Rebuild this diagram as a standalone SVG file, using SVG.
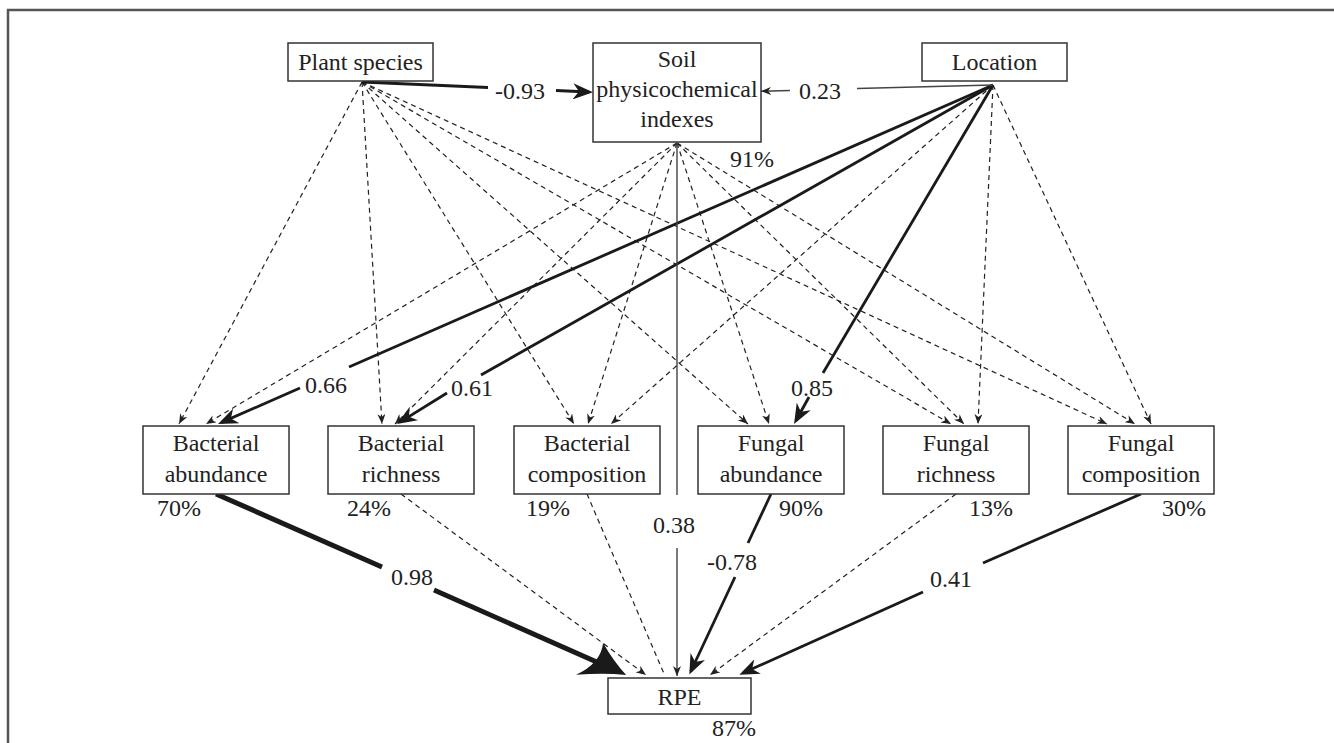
<svg xmlns="http://www.w3.org/2000/svg" width="1334" height="743" viewBox="0 0 1334 743">
<defs>
<style>
.box{fill:#fff;stroke:#333;stroke-width:1.5}
.t{font-family:"Liberation Serif","Times New Roman",serif;font-size:24px;fill:#222}
.c{text-anchor:middle}
.dash{fill:none;stroke:#222;stroke-width:1.2;stroke-dasharray:5 4}
.thick{fill:none;stroke:#1a1a1a;stroke-width:2.8}
.huge{fill:none;stroke:#1a1a1a;stroke-width:5}
.thin{fill:none;stroke:#444;stroke-width:1.4}
</style>
<marker id="sm" viewBox="0 0 10 8" refX="10" refY="4" markerWidth="10" markerHeight="8" orient="auto" markerUnits="userSpaceOnUse"><path d="M10,4 L0,0 L3,4 L0,8 Z" fill="#222"/></marker>
<marker id="md" viewBox="0 0 20 16" refX="16" refY="8" markerWidth="20" markerHeight="16" orient="auto" markerUnits="userSpaceOnUse"><path d="M20,8 L0,0 L6,8 L0,16 Z" fill="#1a1a1a"/></marker>
<marker id="lg" viewBox="0 0 46 40" refX="36" refY="20" markerWidth="46" markerHeight="40" orient="auto" markerUnits="userSpaceOnUse"><path d="M46,20 Q28,12 12,0 Q18,20 0,40 Q26,26 46,20 Z" fill="#1a1a1a"/></marker>
</defs>
<rect width="1334" height="743" fill="#fff"/>
<path d="M8,743 V10 H1334" fill="none" stroke="#555" stroke-width="2.5"/>

<g id="connectors">
<!-- Plant species dashed -->
<line class="dash" x1="362" y1="82" x2="179" y2="424" marker-end="url(#sm)"/>
<line class="dash" x1="362" y1="82" x2="382" y2="424" marker-end="url(#sm)"/>
<line class="dash" x1="362" y1="82" x2="574" y2="424" marker-end="url(#sm)"/>
<line class="dash" x1="362" y1="82" x2="748" y2="424" marker-end="url(#sm)"/>
<line class="dash" x1="362" y1="82" x2="951" y2="424" marker-end="url(#sm)"/>
<line class="dash" x1="362" y1="82" x2="1107" y2="424" marker-end="url(#sm)"/>
<!-- Soil dashed -->
<line class="dash" x1="677" y1="143" x2="206" y2="424" marker-end="url(#sm)"/>
<line class="dash" x1="677" y1="143" x2="395" y2="424" marker-end="url(#sm)"/>
<line class="dash" x1="677" y1="143" x2="588" y2="424" marker-end="url(#sm)"/>
<line class="dash" x1="677" y1="143" x2="769" y2="424" marker-end="url(#sm)"/>
<line class="dash" x1="677" y1="143" x2="964" y2="424" marker-end="url(#sm)"/>
<line class="dash" x1="677" y1="143" x2="1135" y2="424" marker-end="url(#sm)"/>
<!-- Location dashed -->
<line class="dash" x1="993" y1="85" x2="611" y2="424" marker-end="url(#sm)"/>
<line class="dash" x1="993" y1="85" x2="978" y2="424" marker-end="url(#sm)"/>
<line class="dash" x1="993" y1="85" x2="1151" y2="424" marker-end="url(#sm)"/>
<!-- Location thick -->
<path class="thick" d="M993,85 L349,367"/>
<path class="thick" d="M300,388 L221.7,422.4" marker-end="url(#md)"/>
<path class="thick" d="M993,85 L481,375"/>
<path class="thick" d="M447,393 L400.4,421.9" marker-end="url(#md)"/>
<path class="thick" d="M993,85 L823,373"/>
<path class="thick" d="M809,397 L796,420.5" marker-end="url(#md)"/>
<!-- Plant -> Soil -->
<path class="thick" d="M362,82 L488,87.5"/>
<path class="thick" d="M556,90.5 L589,92" marker-end="url(#md)"/>
<!-- Location -> Soil -->
<path class="thin" d="M993,85 L857,88.5"/>
<path class="thin" d="M790,90.5 L761,91.2" marker-end="url(#sm)"/>
<!-- to RPE -->
<path class="huge" d="M216,494 L382,567"/>
<path class="huge" d="M434,590 L617,671" marker-end="url(#lg)"/>
<line class="dash" x1="401" y1="494" x2="646" y2="675" marker-end="url(#sm)"/>
<line class="dash" x1="587" y1="494" x2="665" y2="676"/>
<path class="thin" d="M677,143 V495"/>
<path class="thin" d="M677,548 V676" marker-end="url(#sm)"/>
<path class="thick" d="M771,494 L748,543"/>
<path class="thick" d="M735,577 L691,671" marker-end="url(#md)"/>
<line class="dash" x1="956" y1="494" x2="710" y2="675" marker-end="url(#sm)"/>
<path class="thick" d="M1141,494 L983,563"/>
<path class="thick" d="M923,592 L743,673" marker-end="url(#md)"/>
</g>

<g id="labels">
<text class="t" x="495" y="99">-0.93</text>
<text class="t" x="799" y="99">0.23</text>
<text class="t" x="730" y="167">91%</text>
<text class="t" x="305" y="393">0.66</text>
<text class="t" x="451" y="396">0.61</text>
<text class="t" x="791" y="396">0.85</text>
<text class="t" x="391" y="585">0.98</text>
<text class="t" x="653" y="533">0.38</text>
<text class="t" x="707" y="570">-0.78</text>
<text class="t" x="930" y="587">0.41</text>
</g>

<g id="plant-species">
<rect class="box" x="288" y="43" width="145" height="38"/>
<text class="t c" x="360.5" y="70">Plant species</text>
</g>
<g id="soil">
<rect class="box" x="593" y="43" width="168" height="99"/>
<text class="t c" x="677" y="67">Soil</text>
<text class="t c" x="677" y="97">physicochemical</text>
<text class="t c" x="677" y="127">indexes</text>
</g>
<g id="location">
<rect class="box" x="922" y="43" width="145" height="38"/>
<text class="t c" x="994.5" y="70">Location</text>
</g>
<g id="bacterial-abundance">
<rect class="box" x="143" y="426" width="146" height="68"/>
<text class="t c" x="216" y="451">Bacterial</text>
<text class="t c" x="216" y="482">abundance</text>
<text class="t" x="157" y="516">70%</text>
</g>
<g id="bacterial-richness">
<rect class="box" x="328" y="426" width="146" height="68"/>
<text class="t c" x="401" y="451">Bacterial</text>
<text class="t c" x="401" y="482">richness</text>
<text class="t" x="347" y="516">24%</text>
</g>
<g id="bacterial-composition">
<rect class="box" x="514" y="426" width="146" height="68"/>
<text class="t c" x="587" y="451">Bacterial</text>
<text class="t c" x="587" y="482">composition</text>
<text class="t" x="526" y="516">19%</text>
</g>
<g id="fungal-abundance">
<rect class="box" x="698" y="426" width="146" height="68"/>
<text class="t c" x="771" y="451">Fungal</text>
<text class="t c" x="771" y="482">abundance</text>
<text class="t" x="779" y="516">90%</text>
</g>
<g id="fungal-richness">
<rect class="box" x="883" y="426" width="146" height="68"/>
<text class="t c" x="956" y="451">Fungal</text>
<text class="t c" x="956" y="482">richness</text>
<text class="t" x="969" y="516">13%</text>
</g>
<g id="fungal-composition">
<rect class="box" x="1068" y="426" width="146" height="68"/>
<text class="t c" x="1141" y="451">Fungal</text>
<text class="t c" x="1141" y="482">composition</text>
<text class="t" x="1162" y="516">30%</text>
</g>
<g id="rpe">
<rect class="box" x="608" y="678" width="143" height="36"/>
<text class="t c" x="679.5" y="705">RPE</text>
<text class="t" x="712" y="736">87%</text>
</g>
</svg>
